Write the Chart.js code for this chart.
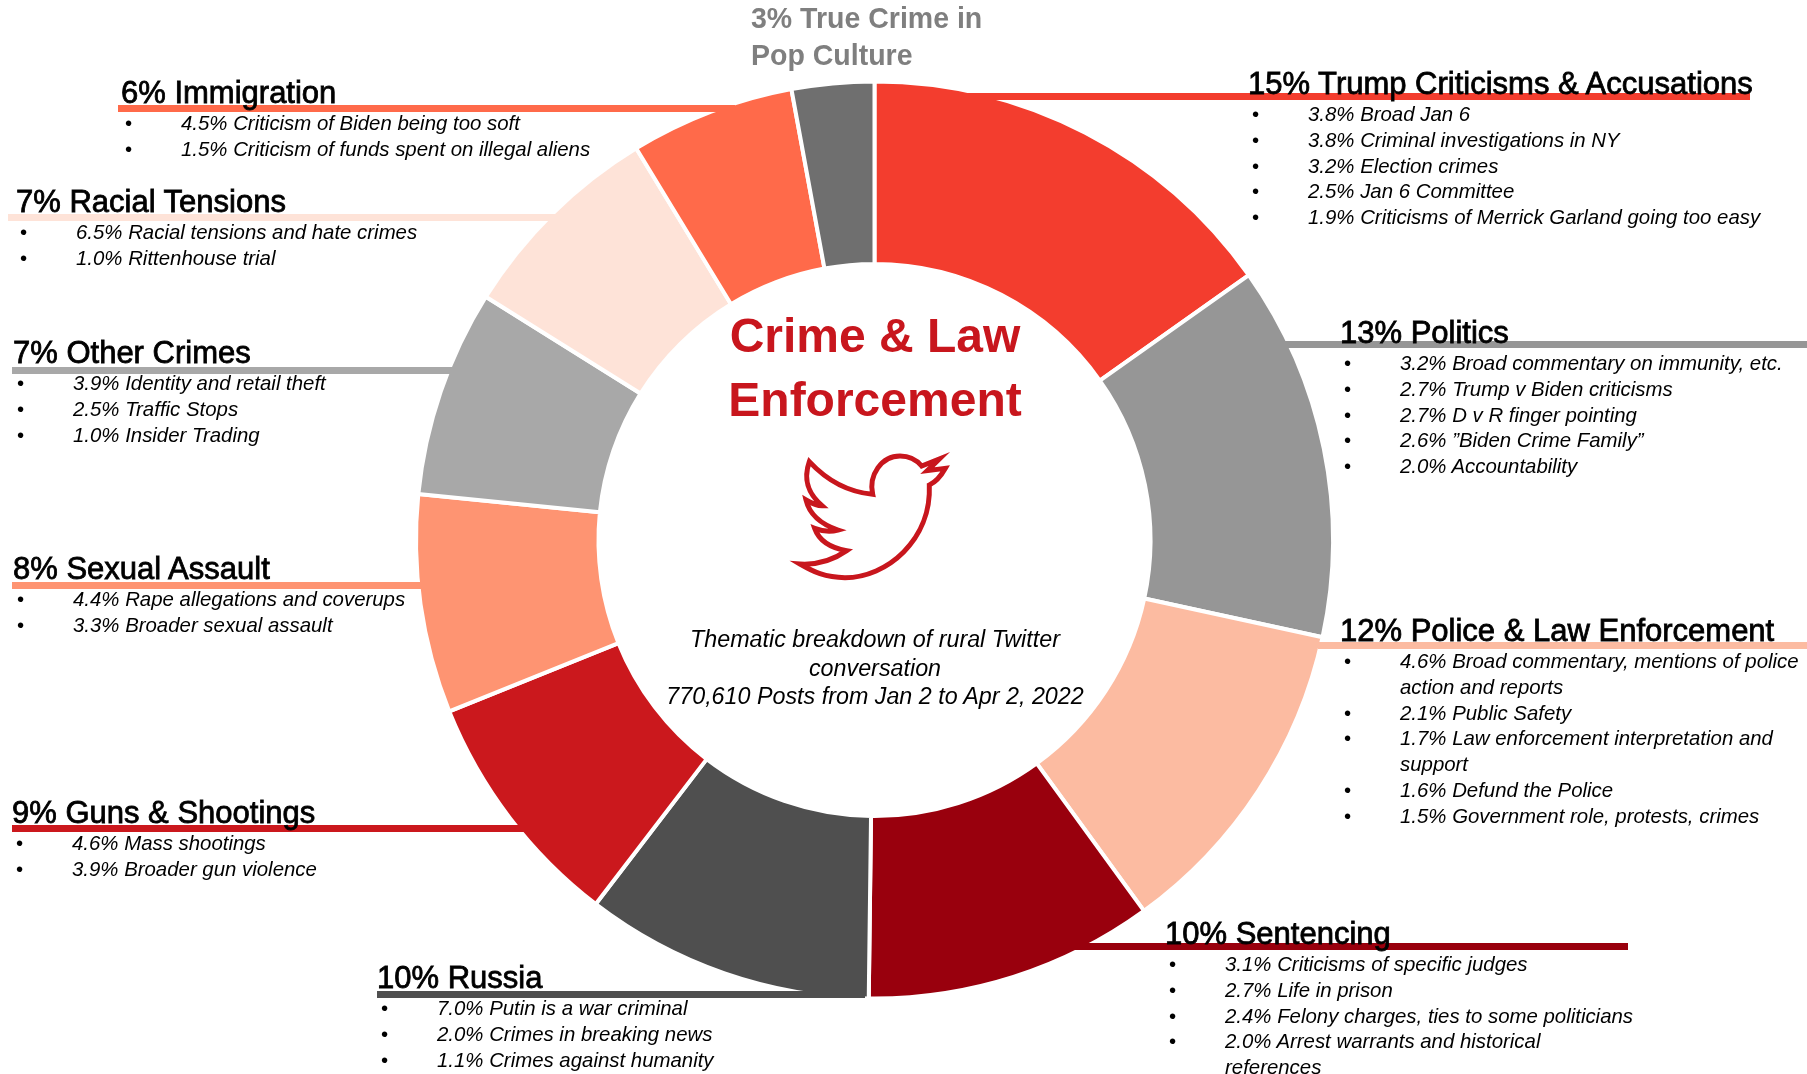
<!DOCTYPE html>
<html>
<head>
<meta charset="utf-8">
<script src="https://cdn.jsdelivr.net/npm/chart.js@4"></script>
<style>
  html, body { margin: 0; background: #fff; overflow: hidden; }
  #page { position: relative; width: 1807px; height: 1074px; font-family: "Liberation Sans", sans-serif; color: #000; }
  #donut { position: absolute; left: 0; top: 0; z-index: 0; }
  .rule { position: absolute; height: 7px; z-index: 1; }
  .block { position: absolute; z-index: 2; white-space: nowrap; }
  .head { font-size: 31px; line-height: 32px; margin-bottom: 2px; -webkit-text-stroke: 0.8px #000; }
  .item { font-size: 20.4px; line-height: 25.8px; font-style: italic; padding-left: 60px; position: relative; white-space: pre-line; }
  .item::before { content: "\2022"; position: absolute; left: 4px; font-style: normal; }
  #pop { position: absolute; left: 751px; top: -1px; font-size: 30px; line-height: 37px; font-weight: bold; color: #7f7f7f; z-index: 2; transform: scaleX(0.95); transform-origin: left; }
  #title { position: absolute; left: 575px; width: 600px; top: 304px; text-align: center; font-size: 48px; line-height: 64px; font-weight: bold; color: #c8161d; z-index: 2; }
  #sub { position: absolute; left: 575px; width: 600px; top: 625px; text-align: center; font-size: 23.3px; line-height: 28.5px; font-style: italic; z-index: 2; }
  #bird { position: absolute; left: 700px; top: 280px; width: 400px; height: 450px; z-index: 2; }
</style>
</head>
<body>
<div id="page">
  <canvas id="donut" width="1807" height="1074"></canvas>
  <div id="pop">3% True Crime in<br>Pop Culture</div>
  <div id="title">Crime &amp; Law<br>Enforcement</div>
  <svg id="bird" viewBox="0 0 1200 1350">
    <path d="M328,545 C370,590 430,635 518,643 C505,585 545,528 600,528 C630,528 650,540 665,558 L718,537 L682,572 L736,565 C722,590 710,605 688,615 C695,780 560,893 435,893 C375,893 340,875 300,852 C350,855 400,840 440,812 C400,805 360,790 344,745 C370,755 395,755 414,750 C370,735 330,710 318,660 C335,670 350,677 366,677 C335,650 305,610 328,545 Z" fill="none" stroke="#c8161d" stroke-width="15" stroke-miterlimit="12"/>
  </svg>
  <div id="sub">Thematic breakdown of rural Twitter<br>conversation<br>770,610 Posts from Jan 2 to Apr 2, 2022</div>
</div>
<script>
const categories = ['15% Trump Criticisms & Accusations', '13% Politics', '12% Police & Law Enforcement', '10% Sentencing', '10% Russia', '9% Guns & Shootings', '8% Sexual Assault', '7% Other Crimes', '7% Racial Tensions', '6% Immigration', '3% True Crime in Pop Culture'];
const values = [15.2, 13.2, 11.6, 10.2, 10.2, 8.5, 7.7, 7.3, 7.4, 5.8, 2.9];
const colors = ['#f33d2e', '#969696', '#fcbba1', '#99000d', '#4f4f4f', '#cb181d', '#fe9472', '#a8a8a8', '#fee3d8', '#ff6a4a', '#6f6f6f'];

const trumpItems = ['3.8% Broad Jan 6', '3.8% Criminal investigations in NY', '3.2% Election crimes', '2.5% Jan 6 Committee', '1.9% Criticisms of Merrick Garland going too easy'];
const politicsItems = ['3.2% Broad commentary on immunity, etc.', '2.7% Trump v Biden criticisms', '2.7% D v R finger pointing', '2.6% ”Biden Crime Family”', '2.0% Accountability'];
const policeItems = ['4.6% Broad commentary, mentions of police\naction and reports', '2.1% Public Safety', '1.7% Law enforcement interpretation and\nsupport', '1.6% Defund the Police', '1.5% Government role, protests, crimes'];
const sentencingItems = ['3.1% Criticisms of specific judges', '2.7% Life in prison', '2.4% Felony charges, ties to some politicians', '2.0% Arrest warrants and historical\nreferences'];
const russiaItems = ['7.0% Putin is a war criminal', '2.0% Crimes in breaking news', '1.1% Crimes against humanity'];
const gunsItems = ['4.6% Mass shootings', '3.9% Broader gun violence'];
const sexualItems = ['4.4% Rape allegations and coverups', '3.3% Broader sexual assault'];
const otherItems = ['3.9% Identity and retail theft', '2.5% Traffic Stops', '1.0% Insider Trading'];
const racialItems = ['6.5% Racial tensions and hate crimes', '1.0% Rittenhouse trial'];
const immigrationItems = ['4.5% Criticism of Biden being too soft', '1.5% Criticism of funds spent on illegal aliens'];

// left, top of each label block, then the coloured rule under the heading
// rules end inside their own slice so they merge with it
const blocks = [
  [trumpItems, 1248, 68, 960, 1750, 93],
  [politicsItems, 1340, 317, 1285, 1807, 341],
  [policeItems, 1340, 615, 1318, 1807, 642],
  [sentencingItems, 1165, 918, 1072, 1628, 943],
  [russiaItems, 377, 962, 377, 865, 991],
  [gunsItems, 12, 797, 12, 525, 825],
  [sexualItems, 13, 553, 12, 425, 582],
  [otherItems, 13, 337, 12, 455, 367],
  [racialItems, 16, 186, 8, 560, 214],
  [immigrationItems, 121, 77, 118, 735, 105]
];

const page = document.getElementById('page');
blocks.forEach((b, i) => {
  const rule = document.createElement('div');
  rule.className = 'rule';
  rule.style.left = b[3] + 'px';
  rule.style.width = (b[4] - b[3]) + 'px';
  rule.style.top = b[5] + 'px';
  rule.style.background = colors[i];
  page.appendChild(rule);

  const block = document.createElement('div');
  block.className = 'block';
  block.style.left = b[1] + 'px';
  block.style.top = b[2] + 'px';
  const head = document.createElement('div');
  head.className = 'head';
  head.textContent = categories[i];
  block.appendChild(head);
  b[0].forEach(text => {
    const item = document.createElement('div');
    item.className = 'item';
    item.textContent = text;
    block.appendChild(item);
  });
  page.appendChild(block);
});

new Chart(document.getElementById('donut'), {
  type: 'doughnut',
  data: {
    labels: categories,
    datasets: [{
      data: values,
      backgroundColor: colors,
      borderColor: '#fff',
      borderWidth: 4
    }]
  },
  options: {
    responsive: false,
    animation: false,
    cutout: '60.2%',
    layout: { padding: { left: 414, right: 472, top: 77, bottom: 71 } },
    plugins: { legend: { display: false }, tooltip: { enabled: false } }
  }
});
</script>
</body>
</html>
